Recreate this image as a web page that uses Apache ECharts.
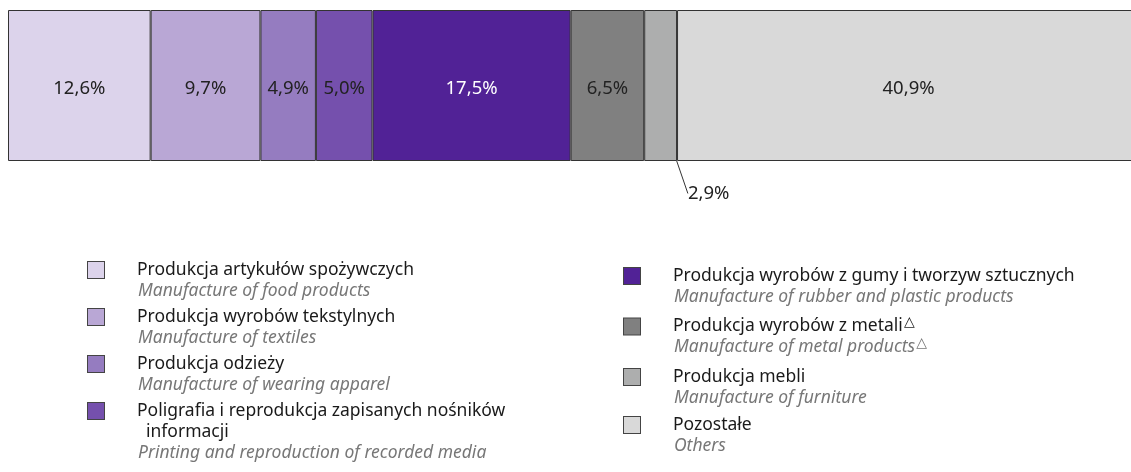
<!DOCTYPE html>
<html>
<head>
<meta charset="utf-8">
<script src="https://cdn.jsdelivr.net/npm/echarts@6/dist/echarts.min.js"></script>
<style>
  html, body { margin: 0; padding: 0; background: #fff; }
  #myChart { width: 1131px; height: 472px; }
</style>
</head>
<body>
<div id="myChart"></div>
<script>
  // dane
  var namesPl = [
    'Produkcja artykułów spożywczych',
    'Produkcja wyrobów tekstylnych',
    'Produkcja odzieży',
    'Poligrafia i reprodukcja zapisanych nośników',
    'Produkcja wyrobów z gumy i tworzyw sztucznych',
    'Produkcja wyrobów z metali',
    'Produkcja mebli',
    'Pozostałe'
  ]
  var namesEn = [
    'Manufacture of food products',
    'Manufacture of textiles',
    'Manufacture of wearing apparel',
    'Printing and reproduction of recorded media',
    'Manufacture of rubber and plastic products',
    'Manufacture of metal products',
    'Manufacture of furniture',
    'Others'
  ]
  var values = [12.6, 9.7, 4.9, 5.0, 17.5, 6.5, 2.9, 40.9]
  var colors = ['#dcd3eb', '#b9a7d5', '#957cc0', '#7550ad', '#512296', '#808080', '#adaeae', '#d9d9d9']

  var font = 'Noto Sans'

  function fmt(v) {
    return v.toFixed(1).replace('.', ',') + '%'
  }

  // rich styles for legend
  var rich = {
    pl: { fontFamily: font, fontSize: 17.5, color: '#1a1a1a', lineHeight: 21, verticalAlign: 'middle' },
    en: { fontFamily: font, fontSize: 17.5, fontStyle: 'italic', color: '#777777', lineHeight: 21, verticalAlign: 'middle' },
    sup: { fontFamily: 'DejaVu Sans', fontSize: 14, color: '#1a1a1a', lineHeight: 21, padding: [0, 0, 9, 1] },
    supEn: { fontFamily: 'DejaVu Sans', fontSize: 14, color: '#777777', lineHeight: 21, padding: [0, 0, 9, 1] },
    sp: { width: 33, lineHeight: 21 },
    ind: { width: 50, lineHeight: 21 },
    ind2: { width: 58, lineHeight: 21 }
  }
  colors.forEach(function(c, i) {
    rich['box' + i] = {
      width: 16, height: 16, backgroundColor: c,
      borderColor: '#444', borderWidth: 1, verticalAlign: 'middle', lineHeight: 21
    }
  })

  function legendText(name) {
    var i = namesPl.indexOf(name)
    var s = '{box' + i + '| }{sp| }{pl|' + name + '}'
    if (i === 5) s += '{sup|△}'
    if (i === 3) s += '\n{ind2| }{pl|informacji}'
    s += '\n{ind| }{en|' + namesEn[i] + '}'
    if (i === 5) s += '{supEn|△}'
    return s
  }

  var series = namesPl.map(function(n, i) {
    var s = {
      name: n,
      type: 'bar',
      stack: 'total',
      barWidth: '100%',
      clip: false,
      data: [values[i]],
      itemStyle: { color: colors[i], borderColor: '#333', borderWidth: 1 },
      label: {
        show: true,
        position: 'inside',
        offset: [0, 3],
        fontFamily: font,
        fontSize: 18.5,
        color: i === 4 ? '#ffffff' : '#222222',
        formatter: function(p) { return fmt(p.value) }
      }
    }
    if (i === 6) {
      s.label.position = 'bottom'
      s.label.offset = [0, 0]
      s.labelLayout = { dx: 48, dy: 18 }
      s.labelLine = { show: true, lineStyle: { color: '#333', width: 1 } }
    }
    return s
  })

  var myChart = echarts.init(document.getElementById('myChart'))
  myChart.setOption({
    animation: false,
    grid: { left: 8, right: 0, top: 10, height: 151 },
    // the last bar runs past the right edge of the picture
    xAxis: { type: 'value', min: 0, max: 99.2, show: false },
    yAxis: { type: 'category', data: [''], show: false },
    legend: [
      {
        data: namesPl.slice(0, 4),
        orient: 'vertical',
        left: 77, top: 256, height: 320,
        itemWidth: 0, itemHeight: 0, itemGap: 8,
        itemStyle: { opacity: 0 },
        selectedMode: false,
        formatter: legendText,
        textStyle: { rich: rich }
      },
      {
        data: namesPl.slice(4),
        orient: 'vertical',
        left: 613, top: 262, height: 320,
        itemWidth: 0, itemHeight: 0, itemGap: 9,
        itemStyle: { opacity: 0 },
        selectedMode: false,
        formatter: legendText,
        textStyle: { rich: rich }
      }
    ],
    series: series
  })
</script>
</body>
</html>
